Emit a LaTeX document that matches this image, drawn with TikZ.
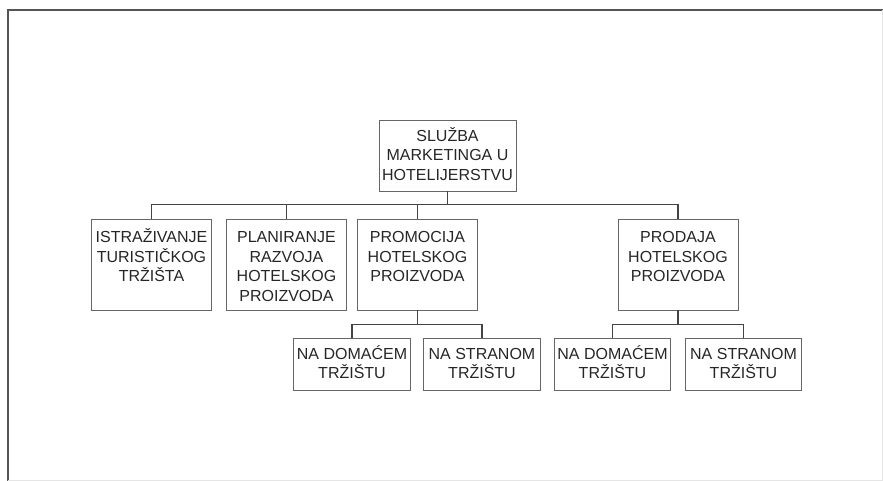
\documentclass[tikz,border=0pt]{standalone}
\usepackage{fontspec}
\setmainfont{Liberation Sans}
\newcommand{\topstrut}{\rule{0pt}{15pt}}
\definecolor{inkc}{HTML}{262626}
\definecolor{boxc}{HTML}{666666}
\definecolor{linec}{HTML}{444444}
\definecolor{framec}{HTML}{555555}
\tikzset{
  box/.style={draw=boxc, line width=0.9pt, inner sep=0pt},
  txt/.style={inner sep=0pt, align=center, text=inkc,
    font=\fontsize{16}{19.5}\selectfont},
  conn/.style={draw=linec, line width=1.1pt},
}
\begin{document}
\begin{tikzpicture}[x=1pt,y=-1pt]
\useasboundingbox (0,0) rectangle (883,481);
% frame
\draw[framec, line width=2pt] (7.5,481) -- (7.5,10) -- (883,10);
\draw[black!10, line width=0.6pt] (882,10) -- (882,481);
\draw[black!10, line width=0.6pt] (7.5,480) -- (883,480);

% boxes
\node[box, minimum width=137pt, minimum height=71pt] (top) at (447.5,155.5) {};
\node[box, minimum width=120pt, minimum height=91pt] (b1) at (151.5,264.5) {};
\node[box, minimum width=120pt, minimum height=91pt] (b2) at (286.5,264.5) {};
\node[box, minimum width=120pt, minimum height=91pt] (b3) at (417.5,264.5) {};
\node[box, minimum width=120pt, minimum height=91pt] (b4) at (678,264.5) {};
\node[box, minimum width=116.5pt, minimum height=52pt] (b5) at (352,364) {};
\node[box, minimum width=116.5pt, minimum height=52pt] (b6) at (482,364) {};
\node[box, minimum width=116.5pt, minimum height=52pt] (b7) at (612.5,364) {};
\node[box, minimum width=116.5pt, minimum height=52pt] (b8) at (743.5,364) {};

% texts
\node[txt, anchor=north] (ttop) at ([yshift=-6.5pt]top.north) {\topstrut SLUŽBA\\MARKETINGA U\\HOTELIJERSTVU};
\node[txt, anchor=north] (t1) at ([yshift=-9pt]b1.north) {\topstrut ISTRAŽIVANJE\\TURISTIČKOG\\TRŽIŠTA};
\node[txt, anchor=north] (t2) at ([yshift=-9pt]b2.north) {\topstrut PLANIRANJE\\RAZVOJA\\HOTELSKOG\\PROIZVODA};
\node[txt, anchor=north] (t3) at ([yshift=-9pt]b3.north) {\topstrut PROMOCIJA\\HOTELSKOG\\PROIZVODA};
\node[txt, anchor=north] (t4) at ([yshift=-9pt]b4.north) {\topstrut PRODAJA\\HOTELSKOG\\PROIZVODA};
\node[txt, anchor=north] (t5) at ([yshift=-6.3pt]b5.north) {\topstrut NA DOMAĆEM\\TRŽIŠTU};
\node[txt, anchor=north] (t6) at ([yshift=-6.3pt]b6.north) {\topstrut NA STRANOM\\TRŽIŠTU};
\node[txt, anchor=north] (t7) at ([yshift=-6.3pt]b7.north) {\topstrut NA DOMAĆEM\\TRŽIŠTU};
\node[txt, anchor=north] (t8) at ([yshift=-6.3pt]b8.north) {\topstrut NA STRANOM\\TRŽIŠTU};

% connectors
\draw[conn] (top.south) -- ++(0,14);
\draw[conn] (b1.north) -- ++(0,-14) -| (b4.north);
\draw[conn] (b2.north) -- ++(0,-14);
\draw[conn] (b3.north) -- ++(0,-14);
\draw[conn] (b3.south) -- ++(0,15);
\draw[conn] (b5.north) -- ++(0,-13) -| (b6.north);
\draw[conn] (b4.south) -- ++(0,15);
\draw[conn] (b7.north) -- ++(0,-13) -| (b8.north);
\end{tikzpicture}
\end{document}
